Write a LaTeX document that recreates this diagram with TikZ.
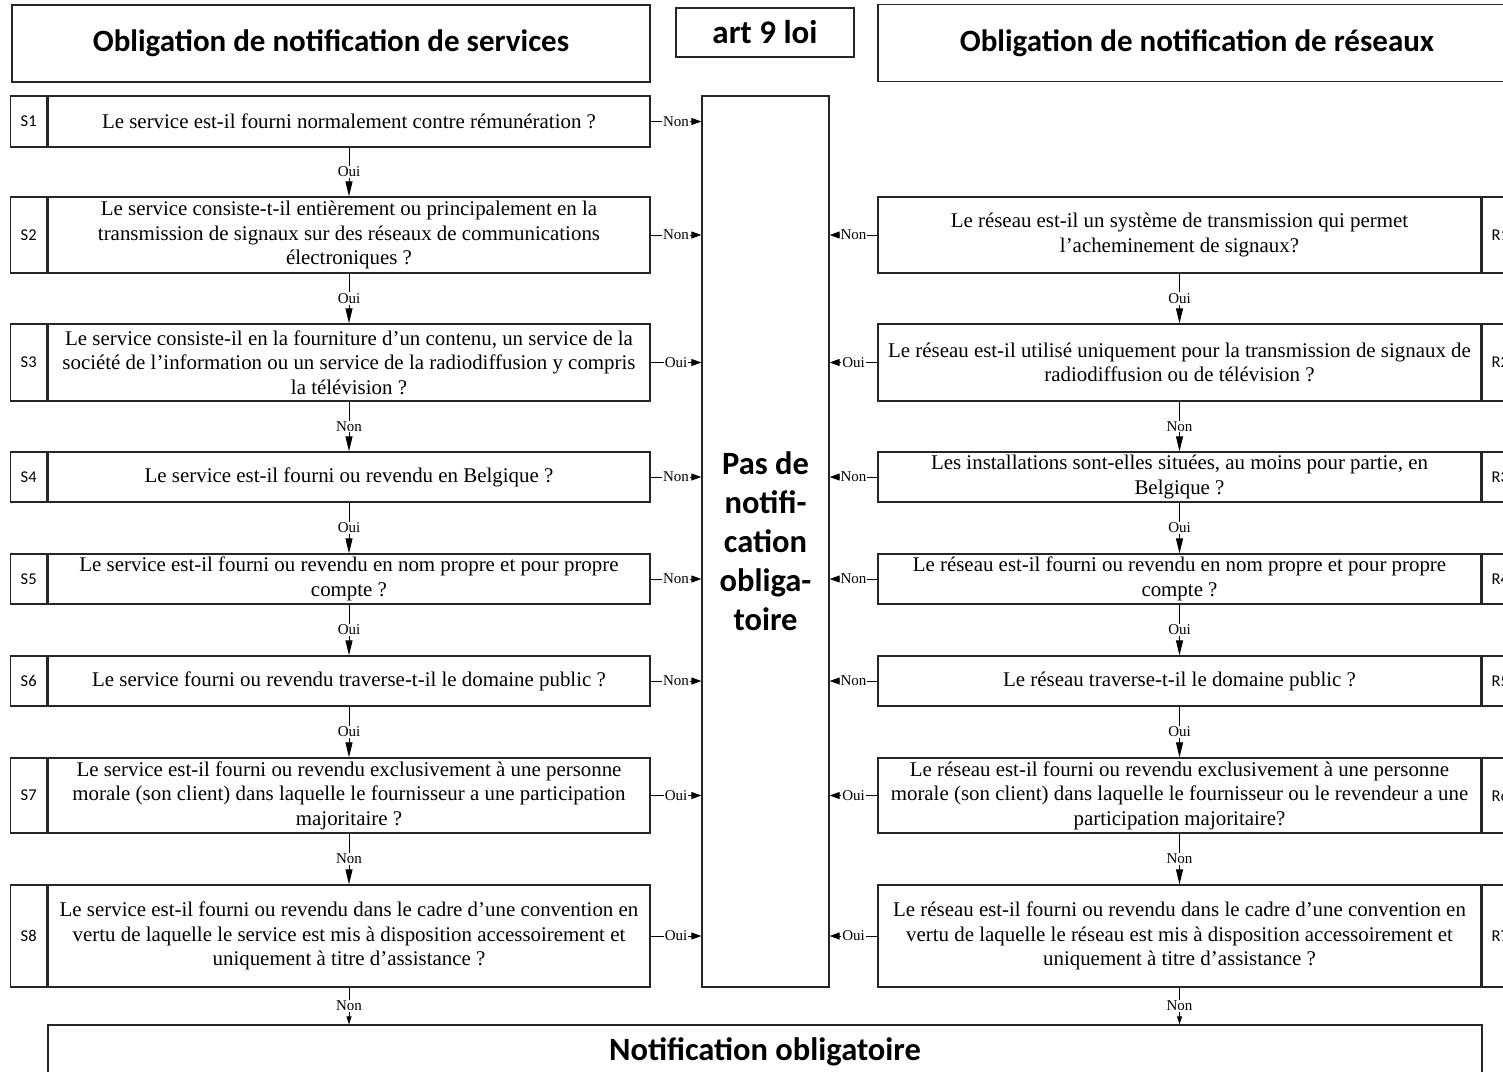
\documentclass[tikz,border=0pt]{standalone}
\usepackage{fontspec}
\setmainfont{Liberation Serif}
\newfontfamily\carl{Carlito}
\usetikzlibrary{arrows.meta}
\newcommand{\qfont}{\fontsize{20.9}{24.5}\selectfont}
\newcommand{\hfont}{\carl\bfseries\fontsize{31}{39}\selectfont}
\begin{document}
\begin{tikzpicture}[x=1pt,y=-1pt,
  frame/.style={draw=black!85, line width=1.3pt, rectangle, inner sep=0pt},
  qbox/.style={frame, align=center, font=\qfont},
  lbox/.style={frame, minimum width=36pt, font=\carl\fontsize{16.5}{16.5}\selectfont},
  hbox/.style={frame, align=center, font=\hfont},
  lab/.style={fill=white, inner sep=1pt, font=\fontsize{15}{15}\selectfont},
  varr/.style={line width=1pt, -{Triangle[length=15pt,width=7pt]}},
  sarr/.style={line width=1pt, -{Triangle[length=8pt,width=5pt]}},
  harr/.style={line width=1pt, -{Triangle[length=10pt,width=7pt]}}]
\useasboundingbox (0,0) rectangle (1503,1071);
\clip (0,0) rectangle (1503,1071);
% headers
\node[hbox, minimum width=638pt, minimum height=77pt] (hs) at (331,43.5) {\raisebox{-2pt}{Obligation de notification de services}};
\node[hbox, minimum width=178pt, minimum height=49pt, font=\carl\bfseries\fontsize{33}{39}\selectfont] (art) at (765,32.5) {art 9 loi};
\node[hbox, minimum width=638pt, minimum height=77pt] (hr) at (1197,43) {\raisebox{-2pt}{Obligation de notification de réseaux}};
% centre
\node[hbox, minimum width=127pt, minimum height=891pt, font=\carl\bfseries\fontsize{32.5}{39}\selectfont] (pas) at (765.5,541.5) {Pas de\\notifi-\\cation\\obliga-\\toire};
% left column
\node[qbox, minimum width=602pt, minimum height=51pt] (s1) at (349,121.5) {Le service est-il fourni normalement contre rémunération ?};
\node[qbox, minimum width=602pt, minimum height=76pt] (s2) at (349,235) {Le service consiste-t-il entièrement ou principalement en la\\transmission de signaux sur des réseaux de communications\\électroniques ?};
\node[qbox, minimum width=602pt, minimum height=77pt] (s3) at (349,362.5) {Le service consiste-il en la fourniture d’un contenu, un service de la\\société de l’information ou un service de la radiodiffusion y compris\\la télévision ?};
\node[qbox, minimum width=602pt, minimum height=50pt] (s4) at (349,477) {Le service est-il fourni ou revendu en Belgique ?};
\node[qbox, minimum width=602pt, minimum height=50pt] (s5) at (349,579) {Le service est-il fourni ou revendu en nom propre et pour propre\\compte ?};
\node[qbox, minimum width=602pt, minimum height=50pt] (s6) at (349,681) {Le service fourni ou revendu traverse-t-il le domaine public ?};
\node[qbox, minimum width=602pt, minimum height=75pt] (s7) at (349,795.5) {Le service est-il fourni ou revendu exclusivement à une personne\\morale (son client) dans laquelle le fournisseur a une participation\\majoritaire ?};
\node[qbox, minimum width=602pt, minimum height=102pt] (s8) at (349,936) {Le service est-il fourni ou revendu dans le cadre d’une convention en\\vertu de laquelle le service est mis à disposition accessoirement et\\uniquement à titre d’assistance ?};
\foreach \i/\h in {1/51,2/76,3/77,4/50,5/50,6/50,7/75,8/102}{
  \node[lbox, minimum height=\h pt, anchor=east] (s\i l) at (s\i.west) {S\i};
}
% right column
\node[qbox, minimum width=603pt, minimum height=76pt] (r1) at (1179.5,235) {Le réseau est-il un système de transmission qui permet\\l’acheminement de signaux?};
\node[qbox, minimum width=603pt, minimum height=77pt] (r2) at (1179.5,362.5) {Le réseau est-il utilisé uniquement pour la transmission de signaux de\\radiodiffusion ou de télévision ?};
\node[qbox, minimum width=603pt, minimum height=50pt] (r3) at (1179.5,477) {Les installations sont-elles situées, au moins pour partie, en\\Belgique ?};
\node[qbox, minimum width=603pt, minimum height=50pt] (r4) at (1179.5,579) {Le réseau est-il fourni ou revendu en nom propre et pour propre\\compte ?};
\node[qbox, minimum width=603pt, minimum height=50pt] (r5) at (1179.5,681) {Le réseau traverse-t-il le domaine public ?};
\node[qbox, minimum width=603pt, minimum height=75pt] (r6) at (1179.5,795.5) {Le réseau est-il fourni ou revendu exclusivement à une personne\\morale (son client) dans laquelle le fournisseur ou le revendeur a une\\participation majoritaire?};
\node[qbox, minimum width=603pt, minimum height=102pt] (r7) at (1179.5,936) {Le réseau est-il fourni ou revendu dans le cadre d’une convention en\\vertu de laquelle le réseau est mis à disposition accessoirement et\\uniquement à titre d’assistance ?};
\foreach \i/\h in {1/76,2/77,3/50,4/50,5/50,6/75,7/102}{
  \node[lbox, minimum height=\h pt, anchor=west] (r\i l) at (r\i.east) {R\i};
}
% bottom
\node[hbox, minimum width=1434pt, minimum height=54pt, font=\carl\bfseries\fontsize{32.5}{39}\selectfont] (no) at (765,1052) {Notification obligatoire};
% vertical arrows left
\foreach \a/\b/\t in {1/2/Oui,2/3/Oui,3/4/Non,4/5/Oui,5/6/Oui,6/7/Oui,7/8/Non}{
  \draw[varr] (s\a.south) -- node[lab]{\t} (s\b.north);
}
\draw[sarr] (s8.south) -- node[lab]{Non} (no.north -| s8.south);
% vertical arrows right
\foreach \a/\b/\t in {1/2/Oui,2/3/Non,3/4/Oui,4/5/Oui,5/6/Oui,6/7/Non}{
  \draw[varr] (r\a.south) -- node[lab]{\t} (r\b.north);
}
\draw[sarr] (r7.south) -- node[lab]{Non} (no.north -| r7.south);
% horizontal arrows
\foreach \i/\t in {1/Non,2/Non,3/Oui,4/Non,5/Non,6/Non,7/Oui,8/Oui}{
  \draw[harr] (s\i.east) -- node[lab]{\t} (s\i.east -| pas.west);
}
\foreach \i/\t in {1/Non,2/Oui,3/Non,4/Non,5/Non,6/Oui,7/Oui}{
  \draw[harr] (r\i.west) -- node[lab]{\t} (r\i.west -| pas.east);
}
\end{tikzpicture}
\end{document}
